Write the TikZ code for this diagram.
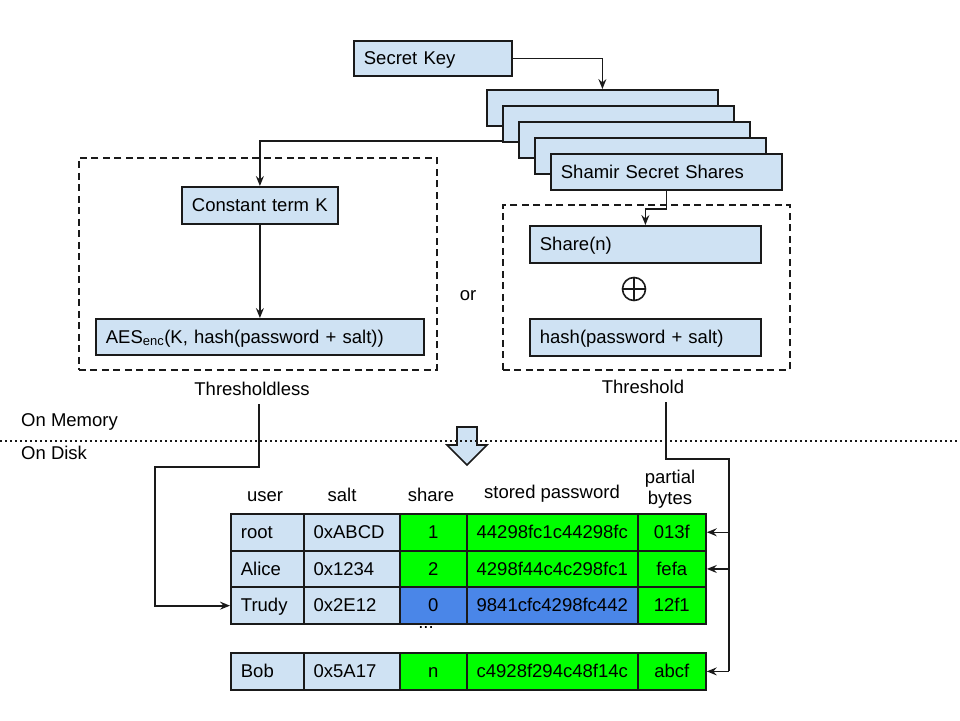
\documentclass[tikz,border=0pt]{standalone}
\usepackage{fontspec}
\setmainfont{Liberation Sans}
\usetikzlibrary{arrows.meta}
\definecolor{lblue}{HTML}{CFE2F3}
\definecolor{lgreen}{HTML}{00FF00}
\definecolor{mblue}{HTML}{4A86E8}
\definecolor{ink}{HTML}{1A1A1A}
\begin{document}
\begin{tikzpicture}[x=1pt,y=-1pt,
  every node/.style={font=\fontsize{18.5}{21}\selectfont, text=black},
  box/.style={draw=ink, line width=1.8pt, fill=lblue, anchor=north west, align=left, inner xsep=10pt, inner ysep=0pt, text height=16pt, text depth=3.5pt},
  dashbox/.style={draw=ink, line width=1.6pt, dash pattern=on 7pt off 4.5pt, anchor=north west, inner sep=0pt},
  cell/.style={draw=ink, line width=1.8pt, anchor=north west, inner ysep=0pt, text height=16pt, text depth=3.5pt},
  lcell/.style={cell, align=left, inner xsep=10pt},
  ccell/.style={cell, align=center, inner xsep=0pt},
  conn/.style={draw=ink, line width=1.5pt},
  bconn/.style={draw=ink, line width=2.3pt},
  tip/.style={-{Stealth[length=10pt,width=8pt,inset=3.5pt]}},
  lbl/.style={inner sep=0pt}
]
\useasboundingbox (0,0) rectangle (960,720);

% top boxes
\node[box, text width=138pt, minimum height=35pt] (sk) at (353,40) {Secret Key};
\node[box, text width=211pt, minimum height=36pt] (s1) at (486,89) {};
\node[box, text width=211pt, minimum height=36pt] (s2) at (502,105) {};
\node[box, text width=211pt, minimum height=36pt] (s3) at (518,121) {};
\node[box, text width=211pt, minimum height=36pt] (s4) at (534,137) {};
\node[box, text width=211pt, minimum height=36pt] (s5) at (550,153) {Shamir Secret Shares};

% dashed groups
\node[dashbox, minimum width=358pt, minimum height=212pt] (lgrp) at (78,157) {};
\node[dashbox, minimum width=287pt, minimum height=165pt] (rgrp) at (502,204) {};

\node[box, text width=136pt, minimum height=37pt] (ck) at (181,186) {Constant term K};
\node[box, text width=308pt, minimum height=36pt] (aes) at (95,318) {AES\textsubscript{enc}(K, hash(password + salt))};
\node[box, text width=211pt, minimum height=37pt] (share) at (529,225) {Share(n)};
\node[box, text width=211pt, minimum height=37pt] (hash) at (529,318) {hash(password + salt)};
\node[circle, draw=ink, line width=1.6pt, minimum size=23pt, inner sep=0pt] (xor) at (634,289) {};
\draw[ink, line width=1.6pt] (xor.north) -- (xor.south) (xor.west) -- (xor.east);

\node[lbl] (or) at (468,296) {or};
\node[lbl] (thl) at (252,389) {Thresholdless};
\node[lbl] (thr) at (643,387) {Threshold};

% top connectors
\draw[conn, tip] (sk.east) -| (s1.north);
\draw[conn, tip] ([yshift=2pt]s2.south west) -| (ck.north);
\draw[conn, tip] (s5.south) -- ++(0,18) -| (share.north);
\draw[conn, tip] (ck.south) -- (aes.north);

% memory / disk
\node[lbl, anchor=west] (mem) at (21,422) {On Memory};
\node[lbl, anchor=west] (disk) at (21,453) {On Disk};
\draw[draw=ink, line width=1.6pt, fill=lblue] (457,427) -- (477,427) -- (477,445) -- (487,445) -- (467,465) -- (447,445) -- (457,445) -- cycle;
\draw[ink, line width=1.6pt, dash pattern=on 1.6pt off 3.4pt] (0,441) -- (960,441);

% table headers
\node[lbl] (huser) at (265,497) {user};
\node[lbl] (hsalt) at (342,495) {salt};
\node[lbl] (hshare) at (431,495) {share};
\node[lbl] (hpw) at (552,494) {stored password};
\node[lbl, align=center, font=\fontsize{18.5}{21}\selectfont] (hpb) at (670,489) {partial\\bytes};

% table rows
\node[lcell, fill=lblue, text width=52.7pt, minimum height=36.7pt] (r1a) at (230,513) {root};
\node[lcell, fill=lblue, text width=76pt, minimum height=36.7pt] (r1b) at (302.7,513) {0xABCD};
\node[ccell, fill=lgreen, minimum width=67.3pt, minimum height=36.7pt] (r1c) at (398.7,513) {1};
\node[ccell, fill=lgreen, minimum width=170.7pt, minimum height=36.7pt] (r1d) at (466,513) {44298fc1c44298fc};
\node[ccell, fill=lgreen, minimum width=68.3pt, minimum height=36.7pt] (r1e) at (636.7,513) {013f};

\node[lcell, fill=lblue, text width=52.7pt, minimum height=36.7pt] (r2a) at (230,549.7) {Alice};
\node[lcell, fill=lblue, text width=76pt, minimum height=36.7pt] (r2b) at (302.7,549.7) {0x1234};
\node[ccell, fill=lgreen, minimum width=67.3pt, minimum height=36.7pt] (r2c) at (398.7,549.7) {2};
\node[ccell, fill=lgreen, minimum width=170.7pt, minimum height=36.7pt] (r2d) at (466,549.7) {4298f44c4c298fc1};
\node[ccell, fill=lgreen, minimum width=68.3pt, minimum height=36.7pt] (r2e) at (636.7,549.7) {fefa};

\node[lcell, fill=lblue, text width=52.7pt, minimum height=36.7pt] (r3a) at (230,586.4) {Trudy};
\node[lcell, fill=lblue, text width=76pt, minimum height=36.7pt] (r3b) at (302.7,586.4) {0x2E12};
\node[ccell, fill=mblue, minimum width=67.3pt, minimum height=36.7pt] (r3c) at (398.7,586.4) {0};
\node[ccell, fill=mblue, minimum width=170.7pt, minimum height=36.7pt] (r3d) at (466,586.4) {9841cfc4298fc442};
\node[ccell, fill=lgreen, minimum width=68.3pt, minimum height=36.7pt] (r3e) at (636.7,586.4) {12f1};

\node[lbl] (dots) at (426,628) {...};

\node[lcell, fill=lblue, text width=52.7pt, minimum height=37pt] (r4a) at (230,652) {Bob};
\node[lcell, fill=lblue, text width=76pt, minimum height=37pt] (r4b) at (302.7,652) {0x5A17};
\node[ccell, fill=lgreen, minimum width=67.3pt, minimum height=37pt] (r4c) at (398.7,652) {n};
\node[ccell, fill=lgreen, minimum width=170.7pt, minimum height=37pt] (r4d) at (466,652) {c4928f294c48f14c};
\node[ccell, fill=lgreen, minimum width=68.3pt, minimum height=37pt] (r4e) at (636.7,652) {abcf};

% lower connectors
\coordinate (tl0) at (259,404);
\draw[bconn, tip] (tl0) -- (259,467) -- (155,467) |- (r3a.west);
\coordinate (tr0) at (666,402);
\coordinate (tr1) at (729,459);
\draw[bconn] (tr0) -- (666,459) -- (tr1) -- (r4e.east -| tr1);
\draw[conn, tip] (r1e.east -| tr1) -- (r1e.east);
\draw[conn, tip] (r2e.east -| tr1) -- (r2e.east);
\draw[conn, tip] (r4e.east -| tr1) -- (r4e.east);
\end{tikzpicture}
\end{document}
